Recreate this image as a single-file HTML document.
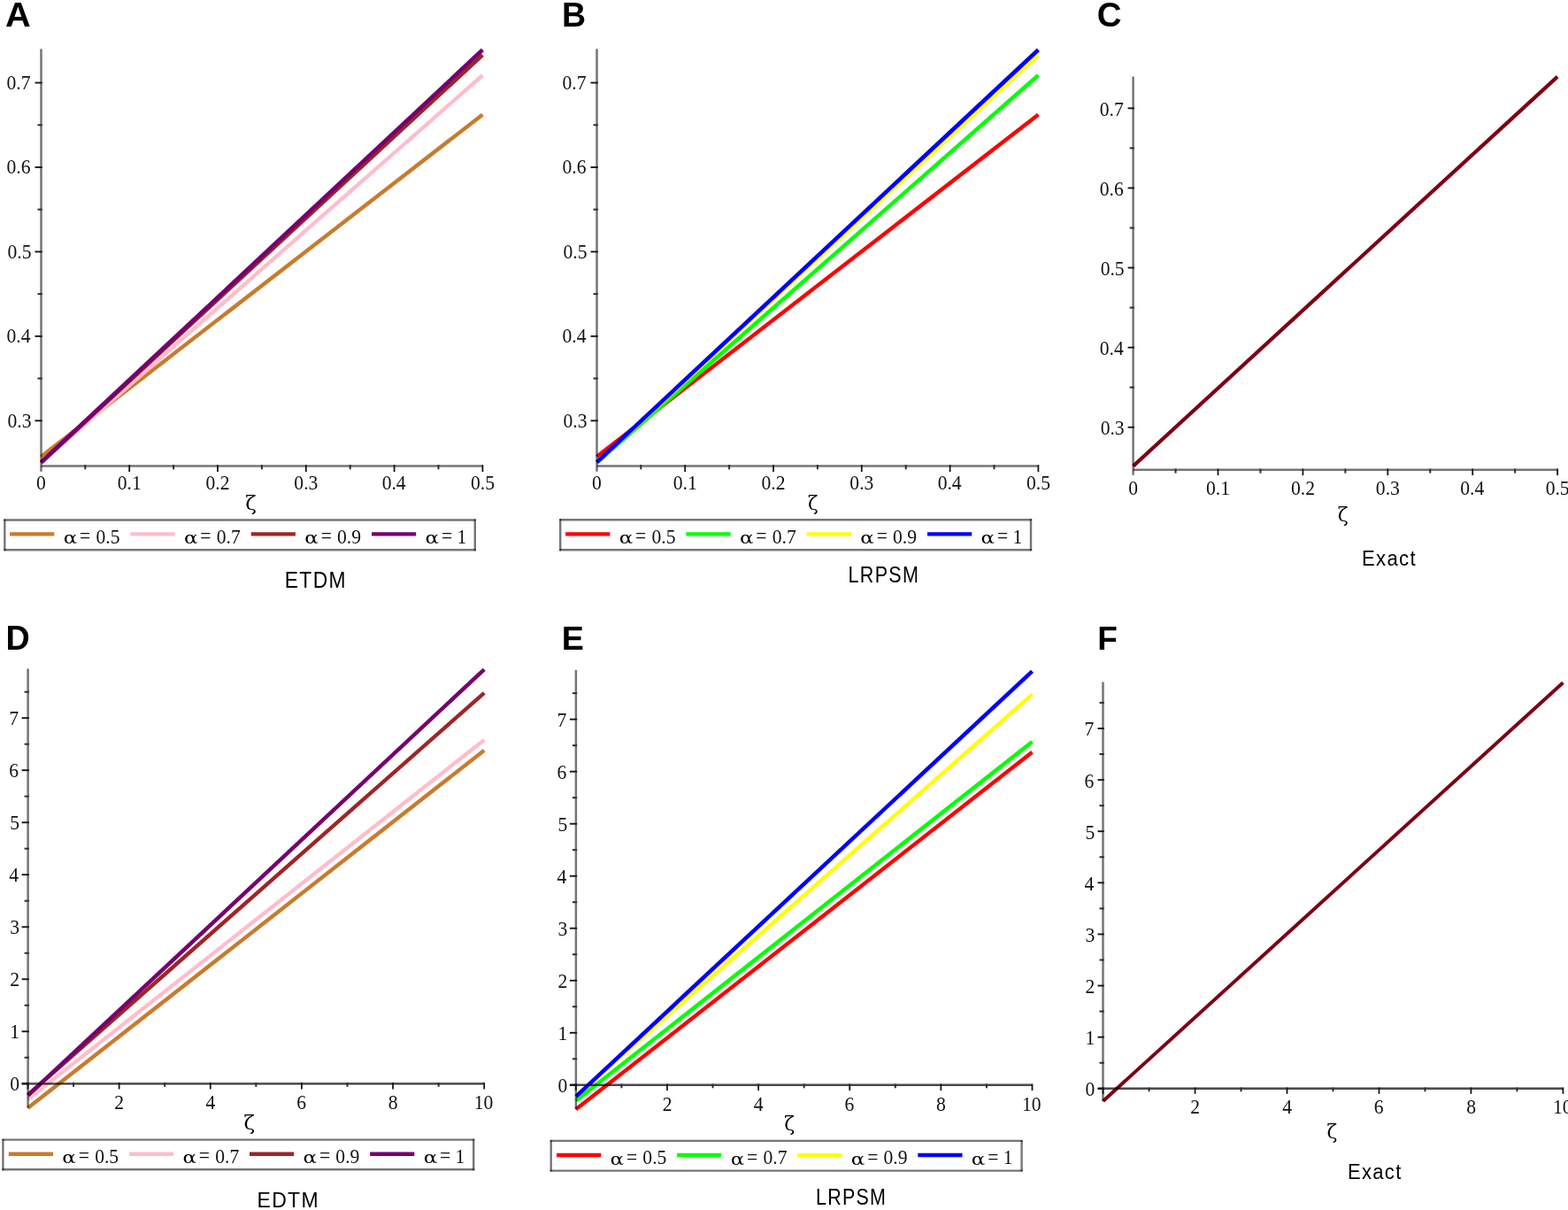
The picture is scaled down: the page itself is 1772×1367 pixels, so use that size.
<!DOCTYPE html><html><head><meta charset="utf-8"><style>html,body{margin:0;padding:0;background:#fff;overflow:hidden;width:1772px;height:1367px;}svg{display:block}</style></head><body>
<svg width="1772" height="1367" viewBox="0 0 1772 1367">
<rect width="1772" height="1367" fill="#fff"/>
<clipPath id="cA"><rect x="45.2" y="50" width="506.2" height="478.5"/></clipPath>
<g clip-path="url(#cA)" stroke-linecap="butt">
<line x1="46.4" y1="515.87" x2="545.4" y2="129.48" stroke="#c97b2d" stroke-width="4.4" stroke-linecap="butt"/>
<line x1="46.4" y1="522.93" x2="545.4" y2="85" stroke="#ffbdcb" stroke-width="4.4" stroke-linecap="butt"/>
<line x1="46.4" y1="522.64" x2="545.4" y2="62.19" stroke="#a02426" stroke-width="4.4" stroke-linecap="butt"/>
<line x1="46.4" y1="522.26" x2="545.4" y2="56.27" stroke="#75006f" stroke-width="4.6" stroke-linecap="butt"/>
</g>
<g>
<line x1="46.5" y1="55.3" x2="46.5" y2="532.8" stroke="#757575" stroke-width="2.5" stroke-linecap="butt" style="mix-blend-mode:multiply"/>
<line x1="46.4" y1="526.4" x2="545.4" y2="526.4" stroke="#757575" stroke-width="2.5" stroke-linecap="butt" style="mix-blend-mode:multiply"/>
<line x1="146.2" y1="525.15" x2="146.2" y2="533.1" stroke="#161616" stroke-width="1.8" stroke-linecap="butt"/>
<line x1="246" y1="525.15" x2="246" y2="533.1" stroke="#161616" stroke-width="1.8" stroke-linecap="butt"/>
<line x1="345.8" y1="525.15" x2="345.8" y2="533.1" stroke="#161616" stroke-width="1.8" stroke-linecap="butt"/>
<line x1="445.6" y1="525.15" x2="445.6" y2="533.1" stroke="#161616" stroke-width="1.8" stroke-linecap="butt"/>
<line x1="545.4" y1="525.15" x2="545.4" y2="533.1" stroke="#161616" stroke-width="1.8" stroke-linecap="butt"/>
<line x1="96.3" y1="525.15" x2="96.3" y2="530.3" stroke="#2e2e2e" stroke-width="2.0" stroke-linecap="butt"/>
<line x1="196.1" y1="525.15" x2="196.1" y2="530.3" stroke="#2e2e2e" stroke-width="2.0" stroke-linecap="butt"/>
<line x1="295.9" y1="525.15" x2="295.9" y2="530.3" stroke="#2e2e2e" stroke-width="2.0" stroke-linecap="butt"/>
<line x1="395.7" y1="525.15" x2="395.7" y2="530.3" stroke="#2e2e2e" stroke-width="2.0" stroke-linecap="butt"/>
<line x1="495.5" y1="525.15" x2="495.5" y2="530.3" stroke="#2e2e2e" stroke-width="2.0" stroke-linecap="butt"/>
<line x1="39.5" y1="475.3" x2="47.75" y2="475.3" stroke="#161616" stroke-width="1.9" stroke-linecap="butt"/>
<line x1="39.5" y1="379.85" x2="47.75" y2="379.85" stroke="#161616" stroke-width="1.9" stroke-linecap="butt"/>
<line x1="39.5" y1="284.4" x2="47.75" y2="284.4" stroke="#161616" stroke-width="1.9" stroke-linecap="butt"/>
<line x1="39.5" y1="188.95" x2="47.75" y2="188.95" stroke="#161616" stroke-width="1.9" stroke-linecap="butt"/>
<line x1="39.5" y1="93.5" x2="47.75" y2="93.5" stroke="#161616" stroke-width="1.9" stroke-linecap="butt"/>
<line x1="42.5" y1="427.57" x2="47.75" y2="427.57" stroke="#2e2e2e" stroke-width="2.0" stroke-linecap="butt"/>
<line x1="42.5" y1="332.12" x2="47.75" y2="332.12" stroke="#2e2e2e" stroke-width="2.0" stroke-linecap="butt"/>
<line x1="42.5" y1="236.67" x2="47.75" y2="236.67" stroke="#2e2e2e" stroke-width="2.0" stroke-linecap="butt"/>
<line x1="42.5" y1="141.22" x2="47.75" y2="141.22" stroke="#2e2e2e" stroke-width="2.0" stroke-linecap="butt"/>
</g>
<text transform="translate(41.12 553) scale(0.96 1)" font-family="Liberation Serif" font-size="22.5" fill="#111">0</text>
<text transform="translate(132.76 553) scale(0.96 1)" font-family="Liberation Serif" font-size="22.5" fill="#111">0.1</text>
<text transform="translate(232.56 553) scale(0.96 1)" font-family="Liberation Serif" font-size="22.5" fill="#111">0.2</text>
<text transform="translate(332.36 553) scale(0.96 1)" font-family="Liberation Serif" font-size="22.5" fill="#111">0.3</text>
<text transform="translate(431.68 553) scale(0.96 1)" font-family="Liberation Serif" font-size="22.5" fill="#111">0.4</text>
<text transform="translate(531.96 553) scale(0.96 1)" font-family="Liberation Serif" font-size="22.5" fill="#111">0.5</text>
<text transform="translate(8.48 482.5) scale(0.96 1)" font-family="Liberation Serif" font-size="22.5" fill="#111">0.3</text>
<text transform="translate(7.52 387.05) scale(0.96 1)" font-family="Liberation Serif" font-size="22.5" fill="#111">0.4</text>
<text transform="translate(8.48 291.6) scale(0.96 1)" font-family="Liberation Serif" font-size="22.5" fill="#111">0.5</text>
<text transform="translate(7.52 196.15) scale(0.96 1)" font-family="Liberation Serif" font-size="22.5" fill="#111">0.6</text>
<text transform="translate(7.52 100.7) scale(0.96 1)" font-family="Liberation Serif" font-size="22.5" fill="#111">0.7</text>
<clipPath id="cB"><rect x="673.2" y="50" width="506.2" height="478.5"/></clipPath>
<g clip-path="url(#cB)" stroke-linecap="butt">
<line x1="674.4" y1="515.87" x2="1173.4" y2="129.48" stroke="#ff0000" stroke-width="4.4" stroke-linecap="butt"/>
<line x1="674.4" y1="522.93" x2="1173.4" y2="85" stroke="#00ff00" stroke-width="4.4" stroke-linecap="butt"/>
<line x1="674.4" y1="522.64" x2="1173.4" y2="62.19" stroke="#ffff00" stroke-width="4.4" stroke-linecap="butt"/>
<line x1="674.4" y1="522.26" x2="1173.4" y2="56.27" stroke="#0000ff" stroke-width="4.6" stroke-linecap="butt"/>
</g>
<g>
<line x1="674.5" y1="55.3" x2="674.5" y2="532.8" stroke="#757575" stroke-width="2.5" stroke-linecap="butt" style="mix-blend-mode:multiply"/>
<line x1="674.4" y1="526.4" x2="1173.4" y2="526.4" stroke="#757575" stroke-width="2.5" stroke-linecap="butt" style="mix-blend-mode:multiply"/>
<line x1="774.2" y1="525.15" x2="774.2" y2="533.1" stroke="#161616" stroke-width="1.8" stroke-linecap="butt"/>
<line x1="874" y1="525.15" x2="874" y2="533.1" stroke="#161616" stroke-width="1.8" stroke-linecap="butt"/>
<line x1="973.8" y1="525.15" x2="973.8" y2="533.1" stroke="#161616" stroke-width="1.8" stroke-linecap="butt"/>
<line x1="1073.6" y1="525.15" x2="1073.6" y2="533.1" stroke="#161616" stroke-width="1.8" stroke-linecap="butt"/>
<line x1="1173.4" y1="525.15" x2="1173.4" y2="533.1" stroke="#161616" stroke-width="1.8" stroke-linecap="butt"/>
<line x1="724.3" y1="525.15" x2="724.3" y2="530.3" stroke="#2e2e2e" stroke-width="2.0" stroke-linecap="butt"/>
<line x1="824.1" y1="525.15" x2="824.1" y2="530.3" stroke="#2e2e2e" stroke-width="2.0" stroke-linecap="butt"/>
<line x1="923.9" y1="525.15" x2="923.9" y2="530.3" stroke="#2e2e2e" stroke-width="2.0" stroke-linecap="butt"/>
<line x1="1023.7" y1="525.15" x2="1023.7" y2="530.3" stroke="#2e2e2e" stroke-width="2.0" stroke-linecap="butt"/>
<line x1="1123.5" y1="525.15" x2="1123.5" y2="530.3" stroke="#2e2e2e" stroke-width="2.0" stroke-linecap="butt"/>
<line x1="667.5" y1="475.3" x2="675.75" y2="475.3" stroke="#161616" stroke-width="1.9" stroke-linecap="butt"/>
<line x1="667.5" y1="379.85" x2="675.75" y2="379.85" stroke="#161616" stroke-width="1.9" stroke-linecap="butt"/>
<line x1="667.5" y1="284.4" x2="675.75" y2="284.4" stroke="#161616" stroke-width="1.9" stroke-linecap="butt"/>
<line x1="667.5" y1="188.95" x2="675.75" y2="188.95" stroke="#161616" stroke-width="1.9" stroke-linecap="butt"/>
<line x1="667.5" y1="93.5" x2="675.75" y2="93.5" stroke="#161616" stroke-width="1.9" stroke-linecap="butt"/>
<line x1="670.5" y1="427.57" x2="675.75" y2="427.57" stroke="#2e2e2e" stroke-width="2.0" stroke-linecap="butt"/>
<line x1="670.5" y1="332.12" x2="675.75" y2="332.12" stroke="#2e2e2e" stroke-width="2.0" stroke-linecap="butt"/>
<line x1="670.5" y1="236.67" x2="675.75" y2="236.67" stroke="#2e2e2e" stroke-width="2.0" stroke-linecap="butt"/>
<line x1="670.5" y1="141.22" x2="675.75" y2="141.22" stroke="#2e2e2e" stroke-width="2.0" stroke-linecap="butt"/>
</g>
<text transform="translate(669.12 553) scale(0.96 1)" font-family="Liberation Serif" font-size="22.5" fill="#111">0</text>
<text transform="translate(760.76 553) scale(0.96 1)" font-family="Liberation Serif" font-size="22.5" fill="#111">0.1</text>
<text transform="translate(860.56 553) scale(0.96 1)" font-family="Liberation Serif" font-size="22.5" fill="#111">0.2</text>
<text transform="translate(960.36 553) scale(0.96 1)" font-family="Liberation Serif" font-size="22.5" fill="#111">0.3</text>
<text transform="translate(1059.68 553) scale(0.96 1)" font-family="Liberation Serif" font-size="22.5" fill="#111">0.4</text>
<text transform="translate(1159.96 553) scale(0.96 1)" font-family="Liberation Serif" font-size="22.5" fill="#111">0.5</text>
<text transform="translate(636.48 482.5) scale(0.96 1)" font-family="Liberation Serif" font-size="22.5" fill="#111">0.3</text>
<text transform="translate(635.52 387.05) scale(0.96 1)" font-family="Liberation Serif" font-size="22.5" fill="#111">0.4</text>
<text transform="translate(636.48 291.6) scale(0.96 1)" font-family="Liberation Serif" font-size="22.5" fill="#111">0.5</text>
<text transform="translate(635.52 196.15) scale(0.96 1)" font-family="Liberation Serif" font-size="22.5" fill="#111">0.6</text>
<text transform="translate(635.52 100.7) scale(0.96 1)" font-family="Liberation Serif" font-size="22.5" fill="#111">0.7</text>
<clipPath id="cC"><rect x="1279.4" y="80" width="492.6" height="453"/></clipPath>
<g clip-path="url(#cC)" stroke-linecap="butt">
<line x1="1280.6" y1="526.58" x2="1760.1" y2="86.62" stroke="#7d0012" stroke-width="4.2" stroke-linecap="butt"/>
</g>
<g>
<line x1="1280.6" y1="86.6" x2="1280.6" y2="536.8" stroke="#757575" stroke-width="2.5" stroke-linecap="butt" style="mix-blend-mode:multiply"/>
<line x1="1280.6" y1="530.8" x2="1760.2" y2="530.8" stroke="#757575" stroke-width="2.5" stroke-linecap="butt" style="mix-blend-mode:multiply"/>
<line x1="1376.5" y1="529.55" x2="1376.5" y2="537" stroke="#161616" stroke-width="1.8" stroke-linecap="butt"/>
<line x1="1472.4" y1="529.55" x2="1472.4" y2="537" stroke="#161616" stroke-width="1.8" stroke-linecap="butt"/>
<line x1="1568.3" y1="529.55" x2="1568.3" y2="537" stroke="#161616" stroke-width="1.8" stroke-linecap="butt"/>
<line x1="1664.2" y1="529.55" x2="1664.2" y2="537" stroke="#161616" stroke-width="1.8" stroke-linecap="butt"/>
<line x1="1760.1" y1="529.55" x2="1760.1" y2="537" stroke="#161616" stroke-width="1.8" stroke-linecap="butt"/>
<line x1="1328.55" y1="529.55" x2="1328.55" y2="534.6" stroke="#2e2e2e" stroke-width="2.0" stroke-linecap="butt"/>
<line x1="1424.45" y1="529.55" x2="1424.45" y2="534.6" stroke="#2e2e2e" stroke-width="2.0" stroke-linecap="butt"/>
<line x1="1520.35" y1="529.55" x2="1520.35" y2="534.6" stroke="#2e2e2e" stroke-width="2.0" stroke-linecap="butt"/>
<line x1="1616.25" y1="529.55" x2="1616.25" y2="534.6" stroke="#2e2e2e" stroke-width="2.0" stroke-linecap="butt"/>
<line x1="1712.15" y1="529.55" x2="1712.15" y2="534.6" stroke="#2e2e2e" stroke-width="2.0" stroke-linecap="butt"/>
<line x1="1274.6" y1="482.7" x2="1281.85" y2="482.7" stroke="#161616" stroke-width="1.9" stroke-linecap="butt"/>
<line x1="1274.6" y1="392.6" x2="1281.85" y2="392.6" stroke="#161616" stroke-width="1.9" stroke-linecap="butt"/>
<line x1="1274.6" y1="302.5" x2="1281.85" y2="302.5" stroke="#161616" stroke-width="1.9" stroke-linecap="butt"/>
<line x1="1274.6" y1="212.4" x2="1281.85" y2="212.4" stroke="#161616" stroke-width="1.9" stroke-linecap="butt"/>
<line x1="1274.6" y1="122.3" x2="1281.85" y2="122.3" stroke="#161616" stroke-width="1.9" stroke-linecap="butt"/>
<line x1="1276.6" y1="437.65" x2="1281.85" y2="437.65" stroke="#2e2e2e" stroke-width="2.0" stroke-linecap="butt"/>
<line x1="1276.6" y1="347.55" x2="1281.85" y2="347.55" stroke="#2e2e2e" stroke-width="2.0" stroke-linecap="butt"/>
<line x1="1276.6" y1="257.45" x2="1281.85" y2="257.45" stroke="#2e2e2e" stroke-width="2.0" stroke-linecap="butt"/>
<line x1="1276.6" y1="167.35" x2="1281.85" y2="167.35" stroke="#2e2e2e" stroke-width="2.0" stroke-linecap="butt"/>
</g>
<text transform="translate(1275.32 559.4) scale(0.96 1)" font-family="Liberation Serif" font-size="22.5" fill="#111">0</text>
<text transform="translate(1363.06 559.4) scale(0.96 1)" font-family="Liberation Serif" font-size="22.5" fill="#111">0.1</text>
<text transform="translate(1458.96 559.4) scale(0.96 1)" font-family="Liberation Serif" font-size="22.5" fill="#111">0.2</text>
<text transform="translate(1554.86 559.4) scale(0.96 1)" font-family="Liberation Serif" font-size="22.5" fill="#111">0.3</text>
<text transform="translate(1650.28 559.4) scale(0.96 1)" font-family="Liberation Serif" font-size="22.5" fill="#111">0.4</text>
<text transform="translate(1746.66 559.4) scale(0.96 1)" font-family="Liberation Serif" font-size="22.5" fill="#111">0.5</text>
<text transform="translate(1243.68 491.2) scale(0.96 1)" font-family="Liberation Serif" font-size="22.5" fill="#111">0.3</text>
<text transform="translate(1242.72 401.1) scale(0.96 1)" font-family="Liberation Serif" font-size="22.5" fill="#111">0.4</text>
<text transform="translate(1243.68 311) scale(0.96 1)" font-family="Liberation Serif" font-size="22.5" fill="#111">0.5</text>
<text transform="translate(1242.72 220.9) scale(0.96 1)" font-family="Liberation Serif" font-size="22.5" fill="#111">0.6</text>
<text transform="translate(1242.72 130.8) scale(0.96 1)" font-family="Liberation Serif" font-size="22.5" fill="#111">0.7</text>
<clipPath id="cD"><rect x="30.4" y="750" width="521.1" height="506"/></clipPath>
<g clip-path="url(#cD)" stroke-linecap="butt">
<line x1="31.5" y1="1251.74" x2="547.2" y2="847.75" stroke="#c97b2d" stroke-width="4.4" stroke-linecap="butt"/>
<line x1="31.5" y1="1242.01" x2="547.2" y2="835.95" stroke="#ffbdcb" stroke-width="4.4" stroke-linecap="butt"/>
<line x1="31.5" y1="1236.99" x2="547.2" y2="782.83" stroke="#a02426" stroke-width="4.4" stroke-linecap="butt"/>
<line x1="31.5" y1="1237.58" x2="547.2" y2="756.27" stroke="#75006f" stroke-width="4.5" stroke-linecap="butt"/>
</g>
<g>
<line x1="31.6" y1="755.5" x2="31.6" y2="1251.8" stroke="#757575" stroke-width="2.5" stroke-linecap="butt" style="mix-blend-mode:multiply"/>
<line x1="24.6" y1="1223.7" x2="547.3" y2="1223.7" stroke="#7c7c7c" stroke-width="2.0" stroke-linecap="butt" style="mix-blend-mode:multiply"/>
<line x1="24.6" y1="1224.8" x2="547.3" y2="1224.8" stroke="#4a4a4a" stroke-width="1.4" stroke-linecap="butt" style="mix-blend-mode:multiply"/>
<line x1="31.5" y1="1223.05" x2="31.5" y2="1230.5" stroke="#161616" stroke-width="1.8" stroke-linecap="butt"/>
<line x1="134.64" y1="1223.05" x2="134.64" y2="1230.5" stroke="#161616" stroke-width="1.8" stroke-linecap="butt"/>
<line x1="237.78" y1="1223.05" x2="237.78" y2="1230.5" stroke="#161616" stroke-width="1.8" stroke-linecap="butt"/>
<line x1="340.92" y1="1223.05" x2="340.92" y2="1230.5" stroke="#161616" stroke-width="1.8" stroke-linecap="butt"/>
<line x1="444.06" y1="1223.05" x2="444.06" y2="1230.5" stroke="#161616" stroke-width="1.8" stroke-linecap="butt"/>
<line x1="547.2" y1="1223.05" x2="547.2" y2="1230.5" stroke="#161616" stroke-width="1.8" stroke-linecap="butt"/>
<line x1="83.07" y1="1223.05" x2="83.07" y2="1227.8" stroke="#2e2e2e" stroke-width="2.0" stroke-linecap="butt"/>
<line x1="186.21" y1="1223.05" x2="186.21" y2="1227.8" stroke="#2e2e2e" stroke-width="2.0" stroke-linecap="butt"/>
<line x1="289.35" y1="1223.05" x2="289.35" y2="1227.8" stroke="#2e2e2e" stroke-width="2.0" stroke-linecap="butt"/>
<line x1="392.49" y1="1223.05" x2="392.49" y2="1227.8" stroke="#2e2e2e" stroke-width="2.0" stroke-linecap="butt"/>
<line x1="495.63" y1="1223.05" x2="495.63" y2="1227.8" stroke="#2e2e2e" stroke-width="2.0" stroke-linecap="butt"/>
<line x1="24.6" y1="1224.3" x2="32.85" y2="1224.3" stroke="#161616" stroke-width="1.9" stroke-linecap="butt"/>
<line x1="24.6" y1="1165.28" x2="32.85" y2="1165.28" stroke="#161616" stroke-width="1.9" stroke-linecap="butt"/>
<line x1="24.6" y1="1106.26" x2="32.85" y2="1106.26" stroke="#161616" stroke-width="1.9" stroke-linecap="butt"/>
<line x1="24.6" y1="1047.24" x2="32.85" y2="1047.24" stroke="#161616" stroke-width="1.9" stroke-linecap="butt"/>
<line x1="24.6" y1="988.22" x2="32.85" y2="988.22" stroke="#161616" stroke-width="1.9" stroke-linecap="butt"/>
<line x1="24.6" y1="929.2" x2="32.85" y2="929.2" stroke="#161616" stroke-width="1.9" stroke-linecap="butt"/>
<line x1="24.6" y1="870.18" x2="32.85" y2="870.18" stroke="#161616" stroke-width="1.9" stroke-linecap="butt"/>
<line x1="24.6" y1="811.16" x2="32.85" y2="811.16" stroke="#161616" stroke-width="1.9" stroke-linecap="butt"/>
<line x1="27.6" y1="1194.79" x2="32.85" y2="1194.79" stroke="#2e2e2e" stroke-width="2.0" stroke-linecap="butt"/>
<line x1="27.6" y1="1135.77" x2="32.85" y2="1135.77" stroke="#2e2e2e" stroke-width="2.0" stroke-linecap="butt"/>
<line x1="27.6" y1="1076.75" x2="32.85" y2="1076.75" stroke="#2e2e2e" stroke-width="2.0" stroke-linecap="butt"/>
<line x1="27.6" y1="1017.73" x2="32.85" y2="1017.73" stroke="#2e2e2e" stroke-width="2.0" stroke-linecap="butt"/>
<line x1="27.6" y1="958.71" x2="32.85" y2="958.71" stroke="#2e2e2e" stroke-width="2.0" stroke-linecap="butt"/>
<line x1="27.6" y1="899.69" x2="32.85" y2="899.69" stroke="#2e2e2e" stroke-width="2.0" stroke-linecap="butt"/>
<line x1="27.6" y1="840.67" x2="32.85" y2="840.67" stroke="#2e2e2e" stroke-width="2.0" stroke-linecap="butt"/>
<line x1="27.6" y1="781.65" x2="32.85" y2="781.65" stroke="#2e2e2e" stroke-width="2.0" stroke-linecap="butt"/>
</g>
<text transform="translate(129.36 1253.4) scale(0.96 1)" font-family="Liberation Serif" font-size="22.5" fill="#111">2</text>
<text transform="translate(232.5 1253.4) scale(0.96 1)" font-family="Liberation Serif" font-size="22.5" fill="#111">4</text>
<text transform="translate(335.16 1253.4) scale(0.96 1)" font-family="Liberation Serif" font-size="22.5" fill="#111">6</text>
<text transform="translate(438.78 1253.4) scale(0.96 1)" font-family="Liberation Serif" font-size="22.5" fill="#111">8</text>
<text transform="translate(535.68 1253.4) scale(0.96 1)" font-family="Liberation Serif" font-size="22.5" fill="#111">10</text>
<text transform="translate(11.2 1232.3) scale(0.96 1)" font-family="Liberation Serif" font-size="22.5" fill="#111">0</text>
<text transform="translate(11.2 1173.28) scale(0.96 1)" font-family="Liberation Serif" font-size="22.5" fill="#111">1</text>
<text transform="translate(11.2 1114.26) scale(0.96 1)" font-family="Liberation Serif" font-size="22.5" fill="#111">2</text>
<text transform="translate(11.2 1055.24) scale(0.96 1)" font-family="Liberation Serif" font-size="22.5" fill="#111">3</text>
<text transform="translate(10.24 996.22) scale(0.96 1)" font-family="Liberation Serif" font-size="22.5" fill="#111">4</text>
<text transform="translate(11.2 937.2) scale(0.96 1)" font-family="Liberation Serif" font-size="22.5" fill="#111">5</text>
<text transform="translate(10.24 878.18) scale(0.96 1)" font-family="Liberation Serif" font-size="22.5" fill="#111">6</text>
<text transform="translate(10.24 819.16) scale(0.96 1)" font-family="Liberation Serif" font-size="22.5" fill="#111">7</text>
<clipPath id="cE"><rect x="649.7" y="751.5" width="521.1" height="506"/></clipPath>
<g clip-path="url(#cE)" stroke-linecap="butt">
<line x1="650.8" y1="1253.24" x2="1166.5" y2="849.84" stroke="#ff0000" stroke-width="4.4" stroke-linecap="butt"/>
<line x1="650.8" y1="1243.51" x2="1166.5" y2="838.04" stroke="#00ff00" stroke-width="4.4" stroke-linecap="butt"/>
<line x1="650.8" y1="1238.49" x2="1166.5" y2="784.33" stroke="#ffff00" stroke-width="4.4" stroke-linecap="butt"/>
<line x1="650.8" y1="1238.78" x2="1166.5" y2="758.36" stroke="#0000ff" stroke-width="4.5" stroke-linecap="butt"/>
</g>
<g>
<line x1="650.9" y1="757" x2="650.9" y2="1253.3" stroke="#757575" stroke-width="2.5" stroke-linecap="butt" style="mix-blend-mode:multiply"/>
<line x1="643.9" y1="1225.2" x2="1166.6" y2="1225.2" stroke="#7c7c7c" stroke-width="2.0" stroke-linecap="butt" style="mix-blend-mode:multiply"/>
<line x1="643.9" y1="1226.3" x2="1166.6" y2="1226.3" stroke="#4a4a4a" stroke-width="1.4" stroke-linecap="butt" style="mix-blend-mode:multiply"/>
<line x1="650.8" y1="1224.55" x2="650.8" y2="1232" stroke="#161616" stroke-width="1.8" stroke-linecap="butt"/>
<line x1="753.94" y1="1224.55" x2="753.94" y2="1232" stroke="#161616" stroke-width="1.8" stroke-linecap="butt"/>
<line x1="857.08" y1="1224.55" x2="857.08" y2="1232" stroke="#161616" stroke-width="1.8" stroke-linecap="butt"/>
<line x1="960.22" y1="1224.55" x2="960.22" y2="1232" stroke="#161616" stroke-width="1.8" stroke-linecap="butt"/>
<line x1="1063.36" y1="1224.55" x2="1063.36" y2="1232" stroke="#161616" stroke-width="1.8" stroke-linecap="butt"/>
<line x1="1166.5" y1="1224.55" x2="1166.5" y2="1232" stroke="#161616" stroke-width="1.8" stroke-linecap="butt"/>
<line x1="702.37" y1="1224.55" x2="702.37" y2="1229.3" stroke="#2e2e2e" stroke-width="2.0" stroke-linecap="butt"/>
<line x1="805.51" y1="1224.55" x2="805.51" y2="1229.3" stroke="#2e2e2e" stroke-width="2.0" stroke-linecap="butt"/>
<line x1="908.65" y1="1224.55" x2="908.65" y2="1229.3" stroke="#2e2e2e" stroke-width="2.0" stroke-linecap="butt"/>
<line x1="1011.79" y1="1224.55" x2="1011.79" y2="1229.3" stroke="#2e2e2e" stroke-width="2.0" stroke-linecap="butt"/>
<line x1="1114.93" y1="1224.55" x2="1114.93" y2="1229.3" stroke="#2e2e2e" stroke-width="2.0" stroke-linecap="butt"/>
<line x1="643.9" y1="1225.8" x2="652.15" y2="1225.8" stroke="#161616" stroke-width="1.9" stroke-linecap="butt"/>
<line x1="643.9" y1="1166.78" x2="652.15" y2="1166.78" stroke="#161616" stroke-width="1.9" stroke-linecap="butt"/>
<line x1="643.9" y1="1107.76" x2="652.15" y2="1107.76" stroke="#161616" stroke-width="1.9" stroke-linecap="butt"/>
<line x1="643.9" y1="1048.74" x2="652.15" y2="1048.74" stroke="#161616" stroke-width="1.9" stroke-linecap="butt"/>
<line x1="643.9" y1="989.72" x2="652.15" y2="989.72" stroke="#161616" stroke-width="1.9" stroke-linecap="butt"/>
<line x1="643.9" y1="930.7" x2="652.15" y2="930.7" stroke="#161616" stroke-width="1.9" stroke-linecap="butt"/>
<line x1="643.9" y1="871.68" x2="652.15" y2="871.68" stroke="#161616" stroke-width="1.9" stroke-linecap="butt"/>
<line x1="643.9" y1="812.66" x2="652.15" y2="812.66" stroke="#161616" stroke-width="1.9" stroke-linecap="butt"/>
<line x1="646.9" y1="1196.29" x2="652.15" y2="1196.29" stroke="#2e2e2e" stroke-width="2.0" stroke-linecap="butt"/>
<line x1="646.9" y1="1137.27" x2="652.15" y2="1137.27" stroke="#2e2e2e" stroke-width="2.0" stroke-linecap="butt"/>
<line x1="646.9" y1="1078.25" x2="652.15" y2="1078.25" stroke="#2e2e2e" stroke-width="2.0" stroke-linecap="butt"/>
<line x1="646.9" y1="1019.23" x2="652.15" y2="1019.23" stroke="#2e2e2e" stroke-width="2.0" stroke-linecap="butt"/>
<line x1="646.9" y1="960.21" x2="652.15" y2="960.21" stroke="#2e2e2e" stroke-width="2.0" stroke-linecap="butt"/>
<line x1="646.9" y1="901.19" x2="652.15" y2="901.19" stroke="#2e2e2e" stroke-width="2.0" stroke-linecap="butt"/>
<line x1="646.9" y1="842.17" x2="652.15" y2="842.17" stroke="#2e2e2e" stroke-width="2.0" stroke-linecap="butt"/>
<line x1="646.9" y1="783.15" x2="652.15" y2="783.15" stroke="#2e2e2e" stroke-width="2.0" stroke-linecap="butt"/>
</g>
<text transform="translate(748.66 1254.9) scale(0.96 1)" font-family="Liberation Serif" font-size="22.5" fill="#111">2</text>
<text transform="translate(851.8 1254.9) scale(0.96 1)" font-family="Liberation Serif" font-size="22.5" fill="#111">4</text>
<text transform="translate(954.46 1254.9) scale(0.96 1)" font-family="Liberation Serif" font-size="22.5" fill="#111">6</text>
<text transform="translate(1058.08 1254.9) scale(0.96 1)" font-family="Liberation Serif" font-size="22.5" fill="#111">8</text>
<text transform="translate(1154.98 1254.9) scale(0.96 1)" font-family="Liberation Serif" font-size="22.5" fill="#111">10</text>
<text transform="translate(630.5 1233.8) scale(0.96 1)" font-family="Liberation Serif" font-size="22.5" fill="#111">0</text>
<text transform="translate(630.5 1174.78) scale(0.96 1)" font-family="Liberation Serif" font-size="22.5" fill="#111">1</text>
<text transform="translate(630.5 1115.76) scale(0.96 1)" font-family="Liberation Serif" font-size="22.5" fill="#111">2</text>
<text transform="translate(630.5 1056.74) scale(0.96 1)" font-family="Liberation Serif" font-size="22.5" fill="#111">3</text>
<text transform="translate(629.54 997.72) scale(0.96 1)" font-family="Liberation Serif" font-size="22.5" fill="#111">4</text>
<text transform="translate(630.5 938.7) scale(0.96 1)" font-family="Liberation Serif" font-size="22.5" fill="#111">5</text>
<text transform="translate(629.54 879.68) scale(0.96 1)" font-family="Liberation Serif" font-size="22.5" fill="#111">6</text>
<text transform="translate(629.54 820.66) scale(0.96 1)" font-family="Liberation Serif" font-size="22.5" fill="#111">7</text>
<clipPath id="cF"><rect x="1245.4" y="760" width="526.6" height="490"/></clipPath>
<g clip-path="url(#cF)" stroke-linecap="butt">
<line x1="1246.6" y1="1243.92" x2="1766.4" y2="771.23" stroke="#7d0012" stroke-width="4.0" stroke-linecap="butt"/>
</g>
<g>
<line x1="1246.5" y1="770.5" x2="1246.5" y2="1244.2" stroke="#757575" stroke-width="2.5" stroke-linecap="butt" style="mix-blend-mode:multiply"/>
<line x1="1240.7" y1="1229.2" x2="1766.4" y2="1229.2" stroke="#7c7c7c" stroke-width="2.0" stroke-linecap="butt" style="mix-blend-mode:multiply"/>
<line x1="1240.7" y1="1230.3" x2="1766.4" y2="1230.3" stroke="#4a4a4a" stroke-width="1.4" stroke-linecap="butt" style="mix-blend-mode:multiply"/>
<line x1="1246.6" y1="1228.55" x2="1246.6" y2="1235.8" stroke="#161616" stroke-width="1.8" stroke-linecap="butt"/>
<line x1="1350.56" y1="1228.55" x2="1350.56" y2="1235.8" stroke="#161616" stroke-width="1.8" stroke-linecap="butt"/>
<line x1="1454.52" y1="1228.55" x2="1454.52" y2="1235.8" stroke="#161616" stroke-width="1.8" stroke-linecap="butt"/>
<line x1="1558.48" y1="1228.55" x2="1558.48" y2="1235.8" stroke="#161616" stroke-width="1.8" stroke-linecap="butt"/>
<line x1="1662.44" y1="1228.55" x2="1662.44" y2="1235.8" stroke="#161616" stroke-width="1.8" stroke-linecap="butt"/>
<line x1="1766.4" y1="1228.55" x2="1766.4" y2="1235.8" stroke="#161616" stroke-width="1.8" stroke-linecap="butt"/>
<line x1="1298.58" y1="1228.55" x2="1298.58" y2="1233.3" stroke="#2e2e2e" stroke-width="2.0" stroke-linecap="butt"/>
<line x1="1402.54" y1="1228.55" x2="1402.54" y2="1233.3" stroke="#2e2e2e" stroke-width="2.0" stroke-linecap="butt"/>
<line x1="1506.5" y1="1228.55" x2="1506.5" y2="1233.3" stroke="#2e2e2e" stroke-width="2.0" stroke-linecap="butt"/>
<line x1="1610.46" y1="1228.55" x2="1610.46" y2="1233.3" stroke="#2e2e2e" stroke-width="2.0" stroke-linecap="butt"/>
<line x1="1714.42" y1="1228.55" x2="1714.42" y2="1233.3" stroke="#2e2e2e" stroke-width="2.0" stroke-linecap="butt"/>
<line x1="1240.5" y1="1229.8" x2="1247.75" y2="1229.8" stroke="#161616" stroke-width="1.9" stroke-linecap="butt"/>
<line x1="1240.5" y1="1171.68" x2="1247.75" y2="1171.68" stroke="#161616" stroke-width="1.9" stroke-linecap="butt"/>
<line x1="1240.5" y1="1113.56" x2="1247.75" y2="1113.56" stroke="#161616" stroke-width="1.9" stroke-linecap="butt"/>
<line x1="1240.5" y1="1055.44" x2="1247.75" y2="1055.44" stroke="#161616" stroke-width="1.9" stroke-linecap="butt"/>
<line x1="1240.5" y1="997.32" x2="1247.75" y2="997.32" stroke="#161616" stroke-width="1.9" stroke-linecap="butt"/>
<line x1="1240.5" y1="939.2" x2="1247.75" y2="939.2" stroke="#161616" stroke-width="1.9" stroke-linecap="butt"/>
<line x1="1240.5" y1="881.08" x2="1247.75" y2="881.08" stroke="#161616" stroke-width="1.9" stroke-linecap="butt"/>
<line x1="1240.5" y1="822.96" x2="1247.75" y2="822.96" stroke="#161616" stroke-width="1.9" stroke-linecap="butt"/>
<line x1="1242.5" y1="1200.74" x2="1247.75" y2="1200.74" stroke="#2e2e2e" stroke-width="2.0" stroke-linecap="butt"/>
<line x1="1242.5" y1="1142.62" x2="1247.75" y2="1142.62" stroke="#2e2e2e" stroke-width="2.0" stroke-linecap="butt"/>
<line x1="1242.5" y1="1084.5" x2="1247.75" y2="1084.5" stroke="#2e2e2e" stroke-width="2.0" stroke-linecap="butt"/>
<line x1="1242.5" y1="1026.38" x2="1247.75" y2="1026.38" stroke="#2e2e2e" stroke-width="2.0" stroke-linecap="butt"/>
<line x1="1242.5" y1="968.26" x2="1247.75" y2="968.26" stroke="#2e2e2e" stroke-width="2.0" stroke-linecap="butt"/>
<line x1="1242.5" y1="910.14" x2="1247.75" y2="910.14" stroke="#2e2e2e" stroke-width="2.0" stroke-linecap="butt"/>
<line x1="1242.5" y1="852.02" x2="1247.75" y2="852.02" stroke="#2e2e2e" stroke-width="2.0" stroke-linecap="butt"/>
<line x1="1242.5" y1="793.9" x2="1247.75" y2="793.9" stroke="#2e2e2e" stroke-width="2.0" stroke-linecap="butt"/>
</g>
<text transform="translate(1345.28 1258.1) scale(0.96 1)" font-family="Liberation Serif" font-size="22.5" fill="#111">2</text>
<text transform="translate(1449.24 1258.1) scale(0.96 1)" font-family="Liberation Serif" font-size="22.5" fill="#111">4</text>
<text transform="translate(1552.72 1258.1) scale(0.96 1)" font-family="Liberation Serif" font-size="22.5" fill="#111">6</text>
<text transform="translate(1657.16 1258.1) scale(0.96 1)" font-family="Liberation Serif" font-size="22.5" fill="#111">8</text>
<text transform="translate(1754.88 1258.1) scale(0.96 1)" font-family="Liberation Serif" font-size="22.5" fill="#111">10</text>
<text transform="translate(1226.4 1238.3) scale(0.96 1)" font-family="Liberation Serif" font-size="22.5" fill="#111">0</text>
<text transform="translate(1226.4 1180.18) scale(0.96 1)" font-family="Liberation Serif" font-size="22.5" fill="#111">1</text>
<text transform="translate(1226.4 1122.06) scale(0.96 1)" font-family="Liberation Serif" font-size="22.5" fill="#111">2</text>
<text transform="translate(1226.4 1063.94) scale(0.96 1)" font-family="Liberation Serif" font-size="22.5" fill="#111">3</text>
<text transform="translate(1225.44 1005.82) scale(0.96 1)" font-family="Liberation Serif" font-size="22.5" fill="#111">4</text>
<text transform="translate(1226.4 947.7) scale(0.96 1)" font-family="Liberation Serif" font-size="22.5" fill="#111">5</text>
<text transform="translate(1225.44 889.58) scale(0.96 1)" font-family="Liberation Serif" font-size="22.5" fill="#111">6</text>
<text transform="translate(1225.44 831.46) scale(0.96 1)" font-family="Liberation Serif" font-size="22.5" fill="#111">7</text>
<line x1="5.3" y1="587.5" x2="536.8" y2="587.5" stroke="#767676" stroke-width="2.4" stroke-linecap="round" style="mix-blend-mode:multiply"/>
<line x1="536.8" y1="587.5" x2="536.8" y2="621.2" stroke="#767676" stroke-width="2.4" stroke-linecap="round" style="mix-blend-mode:multiply"/>
<line x1="536.8" y1="621.2" x2="5.3" y2="621.2" stroke="#767676" stroke-width="2.4" stroke-linecap="round" style="mix-blend-mode:multiply"/>
<line x1="5.3" y1="621.2" x2="5.3" y2="587.5" stroke="#767676" stroke-width="2.4" stroke-linecap="round" style="mix-blend-mode:multiply"/>
<line x1="11.1" y1="603.4" x2="61.3" y2="603.4" stroke="#c97b2d" stroke-width="4.4" stroke-linecap="butt"/>
<text transform="translate(71.65 613.9) scale(1.046 0.867)" font-family="DejaVu Serif" font-size="22">α</text>
<text transform="translate(90.04 613.1) scale(0.96 1)" font-family="Liberation Serif" font-size="22.5" fill="#111">=</text>
<text transform="translate(108.44 613.6) scale(0.96 1)" font-family="Liberation Serif" font-size="22.5" fill="#111">0.5</text>
<line x1="147.4" y1="603.4" x2="197.6" y2="603.4" stroke="#ffbdcb" stroke-width="4.4" stroke-linecap="butt"/>
<text transform="translate(207.95 613.9) scale(1.046 0.867)" font-family="DejaVu Serif" font-size="22">α</text>
<text transform="translate(226.34 613.1) scale(0.96 1)" font-family="Liberation Serif" font-size="22.5" fill="#111">=</text>
<text transform="translate(244.74 613.6) scale(0.96 1)" font-family="Liberation Serif" font-size="22.5" fill="#111">0.7</text>
<line x1="283.7" y1="603.4" x2="333.9" y2="603.4" stroke="#a02426" stroke-width="4.4" stroke-linecap="butt"/>
<text transform="translate(344.25 613.9) scale(1.046 0.867)" font-family="DejaVu Serif" font-size="22">α</text>
<text transform="translate(362.64 613.1) scale(0.96 1)" font-family="Liberation Serif" font-size="22.5" fill="#111">=</text>
<text transform="translate(381.04 613.6) scale(0.96 1)" font-family="Liberation Serif" font-size="22.5" fill="#111">0.9</text>
<line x1="420" y1="603.4" x2="470.2" y2="603.4" stroke="#75006f" stroke-width="4.4" stroke-linecap="butt"/>
<text transform="translate(480.55 613.9) scale(1.046 0.867)" font-family="DejaVu Serif" font-size="22">α</text>
<text transform="translate(498.94 613.1) scale(0.96 1)" font-family="Liberation Serif" font-size="22.5" fill="#111">=</text>
<text transform="translate(516.38 613.6) scale(0.96 1)" font-family="Liberation Serif" font-size="22.5" fill="#111">1</text>
<line x1="633.2" y1="587.3" x2="1165" y2="587.3" stroke="#767676" stroke-width="2.4" stroke-linecap="round" style="mix-blend-mode:multiply"/>
<line x1="1165" y1="587.3" x2="1165" y2="621.3" stroke="#767676" stroke-width="2.4" stroke-linecap="round" style="mix-blend-mode:multiply"/>
<line x1="1165" y1="621.3" x2="633.2" y2="621.3" stroke="#767676" stroke-width="2.4" stroke-linecap="round" style="mix-blend-mode:multiply"/>
<line x1="633.2" y1="621.3" x2="633.2" y2="587.3" stroke="#767676" stroke-width="2.4" stroke-linecap="round" style="mix-blend-mode:multiply"/>
<line x1="639.1" y1="603.4" x2="689.3" y2="603.4" stroke="#ff0000" stroke-width="4.4" stroke-linecap="butt"/>
<text transform="translate(699.65 613.9) scale(1.046 0.867)" font-family="DejaVu Serif" font-size="22">α</text>
<text transform="translate(718.04 613.1) scale(0.96 1)" font-family="Liberation Serif" font-size="22.5" fill="#111">=</text>
<text transform="translate(736.44 613.6) scale(0.96 1)" font-family="Liberation Serif" font-size="22.5" fill="#111">0.5</text>
<line x1="775.4" y1="603.4" x2="825.6" y2="603.4" stroke="#00ff00" stroke-width="4.4" stroke-linecap="butt"/>
<text transform="translate(835.95 613.9) scale(1.046 0.867)" font-family="DejaVu Serif" font-size="22">α</text>
<text transform="translate(854.34 613.1) scale(0.96 1)" font-family="Liberation Serif" font-size="22.5" fill="#111">=</text>
<text transform="translate(872.74 613.6) scale(0.96 1)" font-family="Liberation Serif" font-size="22.5" fill="#111">0.7</text>
<line x1="911.7" y1="603.4" x2="961.9" y2="603.4" stroke="#ffff00" stroke-width="4.4" stroke-linecap="butt"/>
<text transform="translate(972.25 613.9) scale(1.046 0.867)" font-family="DejaVu Serif" font-size="22">α</text>
<text transform="translate(990.64 613.1) scale(0.96 1)" font-family="Liberation Serif" font-size="22.5" fill="#111">=</text>
<text transform="translate(1009.04 613.6) scale(0.96 1)" font-family="Liberation Serif" font-size="22.5" fill="#111">0.9</text>
<line x1="1048" y1="603.4" x2="1098.2" y2="603.4" stroke="#0000ff" stroke-width="4.4" stroke-linecap="butt"/>
<text transform="translate(1108.55 613.9) scale(1.046 0.867)" font-family="DejaVu Serif" font-size="22">α</text>
<text transform="translate(1126.94 613.1) scale(0.96 1)" font-family="Liberation Serif" font-size="22.5" fill="#111">=</text>
<text transform="translate(1144.38 613.6) scale(0.96 1)" font-family="Liberation Serif" font-size="22.5" fill="#111">1</text>
<line x1="3.4" y1="1287.6" x2="535.2" y2="1287.6" stroke="#767676" stroke-width="2.4" stroke-linecap="round" style="mix-blend-mode:multiply"/>
<line x1="535.2" y1="1287.6" x2="535.2" y2="1321.2" stroke="#767676" stroke-width="2.4" stroke-linecap="round" style="mix-blend-mode:multiply"/>
<line x1="535.2" y1="1321.2" x2="3.4" y2="1321.2" stroke="#767676" stroke-width="2.4" stroke-linecap="round" style="mix-blend-mode:multiply"/>
<line x1="3.4" y1="1321.2" x2="3.4" y2="1287.6" stroke="#767676" stroke-width="2.4" stroke-linecap="round" style="mix-blend-mode:multiply"/>
<line x1="9.8" y1="1303.7" x2="60" y2="1303.7" stroke="#c97b2d" stroke-width="4.4" stroke-linecap="butt"/>
<text transform="translate(70.35 1314.2) scale(1.046 0.867)" font-family="DejaVu Serif" font-size="22">α</text>
<text transform="translate(88.74 1313.4) scale(0.96 1)" font-family="Liberation Serif" font-size="22.5" fill="#111">=</text>
<text transform="translate(107.14 1313.9) scale(0.96 1)" font-family="Liberation Serif" font-size="22.5" fill="#111">0.5</text>
<line x1="145.9" y1="1303.7" x2="196.1" y2="1303.7" stroke="#ffbdcb" stroke-width="4.4" stroke-linecap="butt"/>
<text transform="translate(206.45 1314.2) scale(1.046 0.867)" font-family="DejaVu Serif" font-size="22">α</text>
<text transform="translate(224.84 1313.4) scale(0.96 1)" font-family="Liberation Serif" font-size="22.5" fill="#111">=</text>
<text transform="translate(243.24 1313.9) scale(0.96 1)" font-family="Liberation Serif" font-size="22.5" fill="#111">0.7</text>
<line x1="282" y1="1303.7" x2="332.2" y2="1303.7" stroke="#a02426" stroke-width="4.4" stroke-linecap="butt"/>
<text transform="translate(342.55 1314.2) scale(1.046 0.867)" font-family="DejaVu Serif" font-size="22">α</text>
<text transform="translate(360.94 1313.4) scale(0.96 1)" font-family="Liberation Serif" font-size="22.5" fill="#111">=</text>
<text transform="translate(379.34 1313.9) scale(0.96 1)" font-family="Liberation Serif" font-size="22.5" fill="#111">0.9</text>
<line x1="418.1" y1="1303.7" x2="468.3" y2="1303.7" stroke="#75006f" stroke-width="4.4" stroke-linecap="butt"/>
<text transform="translate(478.65 1314.2) scale(1.046 0.867)" font-family="DejaVu Serif" font-size="22">α</text>
<text transform="translate(497.04 1313.4) scale(0.96 1)" font-family="Liberation Serif" font-size="22.5" fill="#111">=</text>
<text transform="translate(514.48 1313.9) scale(0.96 1)" font-family="Liberation Serif" font-size="22.5" fill="#111">1</text>
<line x1="622.7" y1="1288.9" x2="1154.6" y2="1288.9" stroke="#767676" stroke-width="2.4" stroke-linecap="round" style="mix-blend-mode:multiply"/>
<line x1="1154.6" y1="1288.9" x2="1154.6" y2="1322.6" stroke="#767676" stroke-width="2.4" stroke-linecap="round" style="mix-blend-mode:multiply"/>
<line x1="1154.6" y1="1322.6" x2="622.7" y2="1322.6" stroke="#767676" stroke-width="2.4" stroke-linecap="round" style="mix-blend-mode:multiply"/>
<line x1="622.7" y1="1322.6" x2="622.7" y2="1288.9" stroke="#767676" stroke-width="2.4" stroke-linecap="round" style="mix-blend-mode:multiply"/>
<line x1="629" y1="1305" x2="679.2" y2="1305" stroke="#ff0000" stroke-width="4.4" stroke-linecap="butt"/>
<text transform="translate(689.55 1315.5) scale(1.046 0.867)" font-family="DejaVu Serif" font-size="22">α</text>
<text transform="translate(707.94 1314.7) scale(0.96 1)" font-family="Liberation Serif" font-size="22.5" fill="#111">=</text>
<text transform="translate(726.34 1315.2) scale(0.96 1)" font-family="Liberation Serif" font-size="22.5" fill="#111">0.5</text>
<line x1="765.1" y1="1305" x2="815.3" y2="1305" stroke="#00ff00" stroke-width="4.4" stroke-linecap="butt"/>
<text transform="translate(825.65 1315.5) scale(1.046 0.867)" font-family="DejaVu Serif" font-size="22">α</text>
<text transform="translate(844.04 1314.7) scale(0.96 1)" font-family="Liberation Serif" font-size="22.5" fill="#111">=</text>
<text transform="translate(862.44 1315.2) scale(0.96 1)" font-family="Liberation Serif" font-size="22.5" fill="#111">0.7</text>
<line x1="901.2" y1="1305" x2="951.4" y2="1305" stroke="#ffff00" stroke-width="4.4" stroke-linecap="butt"/>
<text transform="translate(961.75 1315.5) scale(1.046 0.867)" font-family="DejaVu Serif" font-size="22">α</text>
<text transform="translate(980.14 1314.7) scale(0.96 1)" font-family="Liberation Serif" font-size="22.5" fill="#111">=</text>
<text transform="translate(998.54 1315.2) scale(0.96 1)" font-family="Liberation Serif" font-size="22.5" fill="#111">0.9</text>
<line x1="1037.3" y1="1305" x2="1087.5" y2="1305" stroke="#0000ff" stroke-width="4.4" stroke-linecap="butt"/>
<text transform="translate(1097.85 1315.5) scale(1.046 0.867)" font-family="DejaVu Serif" font-size="22">α</text>
<text transform="translate(1116.24 1314.7) scale(0.96 1)" font-family="Liberation Serif" font-size="22.5" fill="#111">=</text>
<text transform="translate(1133.68 1315.2) scale(0.96 1)" font-family="Liberation Serif" font-size="22.5" fill="#111">1</text>
<text transform="translate(277.25 576.1) scale(1.0500 1.0000)" font-family="DejaVu Serif" font-size="22" fill="#000">ζ</text>
<text transform="translate(913.03 576.27) scale(0.9700 0.9864)" font-family="DejaVu Serif" font-size="22" fill="#000">ζ</text>
<text transform="translate(1511.7 589.15) scale(1.0000 0.9909)" font-family="DejaVu Serif" font-size="22" fill="#000">ζ</text>
<text transform="translate(275.45 1276.41) scale(1.0500 1.0182)" font-family="DejaVu Serif" font-size="22" fill="#000">ζ</text>
<text transform="translate(886.2 1277.27) scale(1.0000 0.9864)" font-family="DejaVu Serif" font-size="22" fill="#000">ζ</text>
<text transform="translate(1499.42 1286.44) scale(0.9800 0.9727)" font-family="DejaVu Serif" font-size="22" fill="#000">ζ</text>
<text transform="translate(321.8 664) scale(0.9515 1.0471)" font-family="Liberation Sans" font-size="24" letter-spacing="1.4" fill="#000">ETDM</text>
<text transform="translate(958.6 658.2) scale(0.8976 1.0588)" font-family="Liberation Sans" font-size="24" letter-spacing="1.4" fill="#000">LRPSM</text>
<text transform="translate(1539.06 639) scale(0.9222 1.0353)" font-family="Liberation Sans" font-size="24" letter-spacing="1.4" fill="#000">Exact</text>
<text transform="translate(290.48 1364.2) scale(0.9588 1.0176)" font-family="Liberation Sans" font-size="24" letter-spacing="1.4" fill="#000">EDTM</text>
<text transform="translate(922.01 1361.3) scale(0.8940 1.0529)" font-family="Liberation Sans" font-size="24" letter-spacing="1.4" fill="#000">LRPSM</text>
<text transform="translate(1523.07 1331.9) scale(0.9175 1.0294)" font-family="Liberation Sans" font-size="24" letter-spacing="1.4" fill="#000">Exact</text>
<text transform="translate(5.95 29.9) scale(1.0480 1.0111)" font-family="Liberation Sans" font-size="38" font-weight="bold" fill="#000">A</text>
<text transform="translate(634.94 29.8) scale(0.9870 1.0037)" font-family="Liberation Sans" font-size="38" font-weight="bold" fill="#000">B</text>
<text transform="translate(1239.67 30.4) scale(1.0125 1.0407)" font-family="Liberation Sans" font-size="38" font-weight="bold" fill="#000">C</text>
<text transform="translate(6.43 733.9) scale(0.9913 0.9963)" font-family="Liberation Sans" font-size="38" font-weight="bold" fill="#000">D</text>
<text transform="translate(634.83 733.9) scale(0.9905 0.9963)" font-family="Liberation Sans" font-size="38" font-weight="bold" fill="#000">E</text>
<text transform="translate(1240.18 733.5) scale(0.9737 0.9815)" font-family="Liberation Sans" font-size="38" font-weight="bold" fill="#000">F</text>
</svg></body></html>
